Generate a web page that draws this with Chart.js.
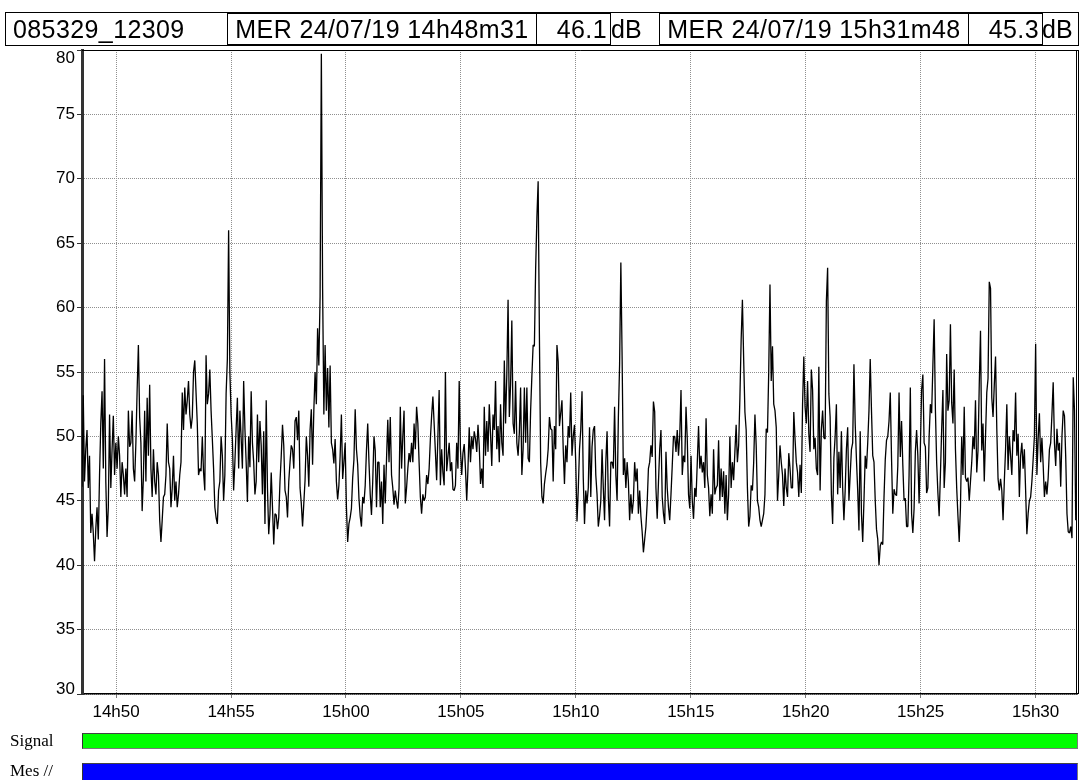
<!DOCTYPE html>
<html>
<head>
<meta charset="utf-8">
<script src="https://cdn.jsdelivr.net/npm/chart.js@4/dist/chart.umd.min.js"></script>
<style>
  html, body { margin:0; padding:0; background:#fff; }
  #wrap { position:relative; width:1081px; height:780px; overflow:hidden; background:#fff; font-family:"Liberation Sans", Arial, sans-serif; }
  #c { position:absolute; left:0; top:0; }
  .hb { position:absolute; top:13px; height:30px; border:1px solid #000; box-sizing:content-box; font-size:25px; letter-spacing:0.4px; line-height:30px; white-space:nowrap; color:#000; }
  .ht { position:absolute; top:13px; height:32px; font-size:25px; letter-spacing:0.4px; line-height:32px; white-space:nowrap; color:#000; }
  .lab { position:absolute; left:10px; font-family:"Liberation Serif", "Times New Roman", serif; font-size:17px; color:#000; }
  .bar { position:absolute; left:82px; width:994px; border:1px solid #7a7a7a; border-top-color:#444; border-left-color:#333; }
</style>
</head>
<body>
<div id="wrap">
  <canvas id="c" width="1081" height="780"></canvas>
  <div style="position:absolute;left:5px;top:12px;width:1072px;height:32px;border:1px solid #000;"></div>
  <div class="ht" id="station" style="left:13px;"></div>
  <div class="hb" id="b1" style="left:227px;width:308px;"></div>
  <div class="hb" id="b2" style="left:536px;width:70px;padding-right:3px;text-align:right;"></div>
  <div class="ht" style="left:611px;letter-spacing:0;">dB</div>
  <div class="hb" id="b3" style="left:659px;width:308px;"></div>
  <div class="hb" id="b4" style="left:968px;width:70px;padding-right:3px;text-align:right;"></div>
  <div class="ht" style="left:1042px;letter-spacing:0;">dB</div>
  <div class="lab" style="top:731px;">Signal</div>
  <div class="bar" style="top:733px;height:14px;background:#00ff00;"></div>
  <div class="lab" style="top:761px;">Mes //</div>
  <div class="bar" style="top:763px;height:16px;background:#0000ff;"></div>
</div>
<script>
// ---- header texts ----
const stationId = '085329_12309';
const startLabel = 'MER 24/07/19 14h48m31';
const startValue = '46.1';
const endLabel = 'MER 24/07/19 15h31m48';
const endValue = '45.3';

// ---- axes ----
const startTime = '14h48m31';
const endTime = '15h31m48';
const xTickLabels = ['14h50','14h55','15h00','15h05','15h10','15h15','15h20','15h25','15h30'];
const yTickValues = [30,35,40,45,50,55,60,65,70,75,80];

// ---- measured sound level (dB), read left to right ----
const seg1 = [46.1,53.2,46.5,49.0,50.5,46.0,48.5,42.5,44.0,42.5,40.3,42.8,44.5,42.0,47.0,51.0,53.5,47.5,56.0,46.5,42.2,44.5,51.7,46.0,49.0,51.6,47.0,49.5,47.5,50.0,48.5,45.3,48.0,47.0,45.5,47.5,45.3,52.0,49.2,49.5,52.0,47.5,46.5,49.5,53.6,57.1,51.5,49.5,44.2,46.8,52.0,46.5,53.0,48.5,54.0,47.5,45.3,49.0,46.5,45.5,48.0,47.0,43.5,41.8,43.5,45.3,45.5,47.0,51.0,48.0,47.5,44.5,46.0,48.5,45.0,46.5,44.5,45.5,47.0];
const seg2 = [48.0,53.4,50.5,53.8,51.7,52.8,54.3,51.7,50.6,51.5,55.0,55.9,53.4,51.0,47.0,47.5,47.3,50.0,47.2,45.8,56.3,52.5,53.3,55.2,52.0,49.8,47.5,44.5,43.7,43.2,45.8,46.5,50.0,48.5,45.0,47.0,53.3,56.0,66.0,55.0,51.7,49.8,45.8,48.0,50.6,53.0,47.5,52.0,49.9,47.5,54.3,50.6,48.0,44.9,50.0,47.6,53.5,49.5,48.0,45.5,46.5,51.7,48.0,51.2,49.3,45.5,50.4,43.2,52.8,46.0,42.4,44.0,47.2,44.5,41.6,44.0,43.9,42.8];
const seg3 = [43.7,46.5,48.5,50.9,49.3,45.8,45.3,43.7,46.5,48.0,49.3,49.0,47.5,51.2,51.5,49.7,52.0,46.0,44.8,43.0,44.8,46.6,50.0,48.5,46.1,50.5,52.1,47.8,52.0,55.0,52.5,58.4,55.5,60.9,79.7,61.5,51.7,57.1,52.0,55.3,50.7,55.5,49.5,49.0,47.9,49.8,46.5,45.1,46.2,48.5,51.7,46.7,48.0,49.5,44.5,41.8,43.2,43.7,44.4,46.8,48.2,52.1,49.0,47.8,45.2,43.8,43.0,45.3,44.8,46.2,48.9,51.0,48.0,45.5,43.9,46.5,50.0,48.9,44.5,48.0];
const seg4 = [48.0,44.5,46.5,43.2,47.8,44.8,48.2,51.3,48.0,51.5,47.0,46.0,44.7,45.8,45.0,44.4,46.0,52.3,47.5,50.0,52.0,44.8,46.0,47.5,48.7,48.0,49.5,48.0,51.0,49.0,52.3,51.0,48.0,45.3,44.0,45.5,45.0,45.3,47.0,46.3,47.5,49.8,51.6,53.1,51.0,48.8,46.6,50.0,53.6,46.2,49.0,47.2,46.2,55.0,47.3,48.4,49.5,47.3,48.0,45.9,45.8,46.2,49.5,47.5,54.3,49.0,47.0,48.7,49.4,47.5,45.0,47.5,50.7,48.0,50.0,49.0,50.4,49.8];
const seg5 = [48.8,50.9,49.3,46.3,47.5,46.0,52.3,48.5,51.2,48.8,52.5,50.2,47.7,51.7,50.5,54.3,49.0,50.8,48.0,52.5,49.5,48.5,55.9,51.0,54.8,60.6,51.5,54.0,59.0,51.0,50.2,54.3,49.5,48.5,50.3,53.8,47.0,49.0,53.8,49.5,53.8,48.3,48.0,52.0,54.7,57.1,57.0,63.0,67.0,69.8,57.9,48.0,45.3,44.8,46.3,47.1,47.8,49.0,51.5,50.6,50.5,46.5,50.8,49.0,57.1,55.8,50.8,51.8,52.8,49.0,46.3,49.3,48.0,50.8,49.9,53.4,48.5,50.0,50.9,48.0,43.4,45.8];
const seg6 = [49.0,50.5,53.5,46.8,43.2,45.8,44.8,46.0,50.7,45.3,49.2,50.5,50.8,47.0,45.5,43.0,43.8,45.0,49.0,46.0,43.5,48.0,50.4,45.3,43.0,48.0,48.0,47.5,52.3,47.0,45.0,51.4,55.6,63.5,56.2,47.0,48.3,46.0,48.0,46.5,43.5,45.5,44.0,45.0,48.0,46.5,47.5,44.0,45.8,43.8,42.6,41.0,42.0,43.0,44.8,47.5,48.0,49.3,48.4,52.7,51.9,46.0,43.6,46.4,49.0,50.5,45.3,44.0,43.2,48.8,46.0,44.5,43.5,45.5,47.7,50.0,50.0,48.8,50.5];
const seg7 = [48.5,50.1,53.6,47.0,48.5,48.0,52.3,49.8,45.5,44.4,48.5,45.0,43.6,46.0,45.3,48.0,50.8,47.5,48.5,47.2,48.0,46.0,51.4,47.0,46.0,43.8,45.5,44.0,49.0,45.5,46.0,46.2,49.7,45.0,47.5,45.3,47.3,44.0,47.0,43.5,45.5,50.0,46.0,48.0,46.6,48.8,50.9,48.0,49.3,53.0,57.5,60.6,56.0,51.9,50.5,46.0,43.0,43.8,46.2,45.8,48.0,51.7,49.3,45.0,44.5,43.5,43.0,43.5,44.0,45.5,50.6,50.3,55.0,61.8,54.3,57.0,52.5,52.0,50.7,45.0];
const seg8 = [47.0,49.3,48.0,47.0,44.6,47.5,46.0,45.3,48.7,47.5,46.0,46.0,51.9,49.8,48.0,47.2,45.3,47.8,45.6,52.5,56.2,52.3,51.0,54.3,50.2,48.8,55.2,53.6,49.0,49.9,47.5,47.0,55.4,45.8,50.5,52.0,49.9,49.8,60.5,63.1,53.3,51.5,45.5,43.2,48.3,50.0,52.5,45.5,48.8,46.0,50.4,46.0,43.5,45.8,49.0,50.7,45.0,47.0,49.0,49.5,55.6,51.0,48.2,45.8,42.7,50.4,44.0,41.8,45.0,48.5,47.5,49.5,52.0,56.0,52.0,48.5,48.0,45.0,42.8,42.0,40.0];
const seg9 = [41.5,41.8,41.6,45.3,48.2,49.7,50.0,51.2,53.4,48.3,44.0,45.9,45.5,45.4,47.7,53.4,48.4,51.2,47.8,45.0,45.2,43.0,43.0,47.0,53.8,44.0,42.5,44.4,48.8,50.5,48.5,44.8,49.0,53.6,54.8,49.5,49.2,45.6,46.0,50.0,52.5,51.8,55.5,59.1,52.1,48.0,45.6,43.8,47.0,50.5,53.6,46.0,48.0,56.4,52.0,52.8,58.7,52.6,51.0,55.2,49.0,46.0,43.8,41.8,44.5,50.0,47.0,52.3,46.8,46.5,46.8,45.0,46.5,48.0,50.0,49.0,52.8,47.2];
const seg10 = [48.9,54.0,58.2,48.9,51.0,46.5,50.0,53.4,54.5,62.0,61.5,53.0,51.5,54.0,56.2,50.6,46.7,45.8,46.7,45.8,43.5,46.5,49.0,52.5,47.4,50.0,48.5,47.0,50.5,49.6,53.4,48.5,50.2,45.3,48.5,49.5,47.5,49.0,45.8,42.4,44.0,45.0,45.3,46.5,48.2,50.0,57.2,47.0,49.8,51.8,48.0,49.9,47.8,45.3,46.5,45.5,46.8,49.0,49.5,51.7,54.2,49.5,47.7,50.6,48.9,49.5,46.1,50.0,52.0,51.6,48.4,44.0,42.6,42.5,43.0,42.1,54.6,52.0,43.5,45.3];

const levels = [].concat(seg1, seg2, seg3, seg4, seg5, seg6, seg7, seg8, seg9, seg10);

// ---- header ----
document.getElementById('station').textContent = stationId;
document.getElementById('b1').textContent = '\u00a0' + startLabel;
document.getElementById('b2').textContent = startValue;
document.getElementById('b3').textContent = '\u00a0' + endLabel;
document.getElementById('b4').textContent = endValue;

function toSec(s) {
  const m = s.match(/(\d+)h(\d+)(?:m(\d+))?/);
  return (+m[1]) * 3600 + (+m[2]) * 60 + (m[3] ? +m[3] : 0);
}
function fmt(sec) {
  const h = Math.floor(sec / 3600), mi = Math.round((sec % 3600) / 60);
  return h + 'h' + String(mi).padStart(2, '0');
}
const t0 = toSec(startTime), t1 = toSec(endTime);
const step = (t1 - t0) / (levels.length - 1);
const points = levels.map((v, i) => ({ x: t0 + i * step, y: v }));
const xTickValues = xTickLabels.map(toSec);

const tickFont = { family: '"Liberation Sans", Arial, sans-serif', size: 17 };

// frame on top/right + y labels kept inside the plot height (as in the original)
const framePlugin = {
  id: 'frame',
  afterDraw(chart) {
    const { ctx, chartArea: a } = chart;
    const ys = chart.scales.y;
    ctx.save();
    ctx.strokeStyle = '#000';
    ctx.lineWidth = 1;
    ctx.beginPath();
    ctx.moveTo(a.left, a.top + 0.5); ctx.lineTo(a.right + 2, a.top + 0.5);
    ctx.moveTo(a.right - 0.5, a.top); ctx.lineTo(a.right - 0.5, a.bottom);
    ctx.moveTo(a.right + 1.5, a.top); ctx.lineTo(a.right + 1.5, a.bottom);
    ctx.stroke();
    ctx.fillStyle = '#000';
    ctx.font = tickFont.size + 'px ' + tickFont.family;
    ctx.textAlign = 'right';
    ctx.textBaseline = 'middle';
    yTickValues.forEach(v => {
      let y = ys.getPixelForValue(v);
      y = Math.min(Math.max(y, a.top + 8), a.bottom - 5);
      ctx.fillText(String(v), ys.right - 7, y);
    });
    ctx.restore();
  }
};

new Chart(document.getElementById('c'), {
  type: 'line',
  data: {
    datasets: [{
      data: points,
      borderColor: '#000',
      borderWidth: 1.3,
      borderJoinStyle: 'bevel',
      pointRadius: 0,
      tension: 0,
      fill: false
    }]
  },
  options: {
    responsive: false,
    animation: false,
    events: [],
    layout: { padding: { left: 0, top: 50, right: 4, bottom: 50 } },
    plugins: { legend: { display: false }, tooltip: { enabled: false } },
    scales: {
      x: {
        type: 'linear', min: t0, max: t1,
        afterBuildTicks: s => { s.ticks = xTickValues.map(v => ({ value: v })); },
        afterFit: s => { s.height = 36; },
        ticks: { callback: v => fmt(v), color: '#000', font: tickFont, maxRotation: 0, autoSkip: false, padding: 4 },
        grid: { color: '#8f8f8f', lineWidth: 1, tickLength: 4, tickColor: '#777' },
        border: { display: true, color: '#000', width: 1.5, dash: [1, 1] }
      },
      y: {
        min: 30, max: 80,
        afterBuildTicks: s => { s.ticks = yTickValues.map(v => ({ value: v })); },
        afterFit: s => { s.width = 82; },
        ticks: { display: false },
        grid: { color: '#8f8f8f', lineWidth: 1, tickLength: 5, tickColor: '#333' },
        border: { display: true, color: '#333', width: 3, dash: [1, 1] }
      }
    }
  },
  plugins: [framePlugin]
});
</script>
</body>
</html>
